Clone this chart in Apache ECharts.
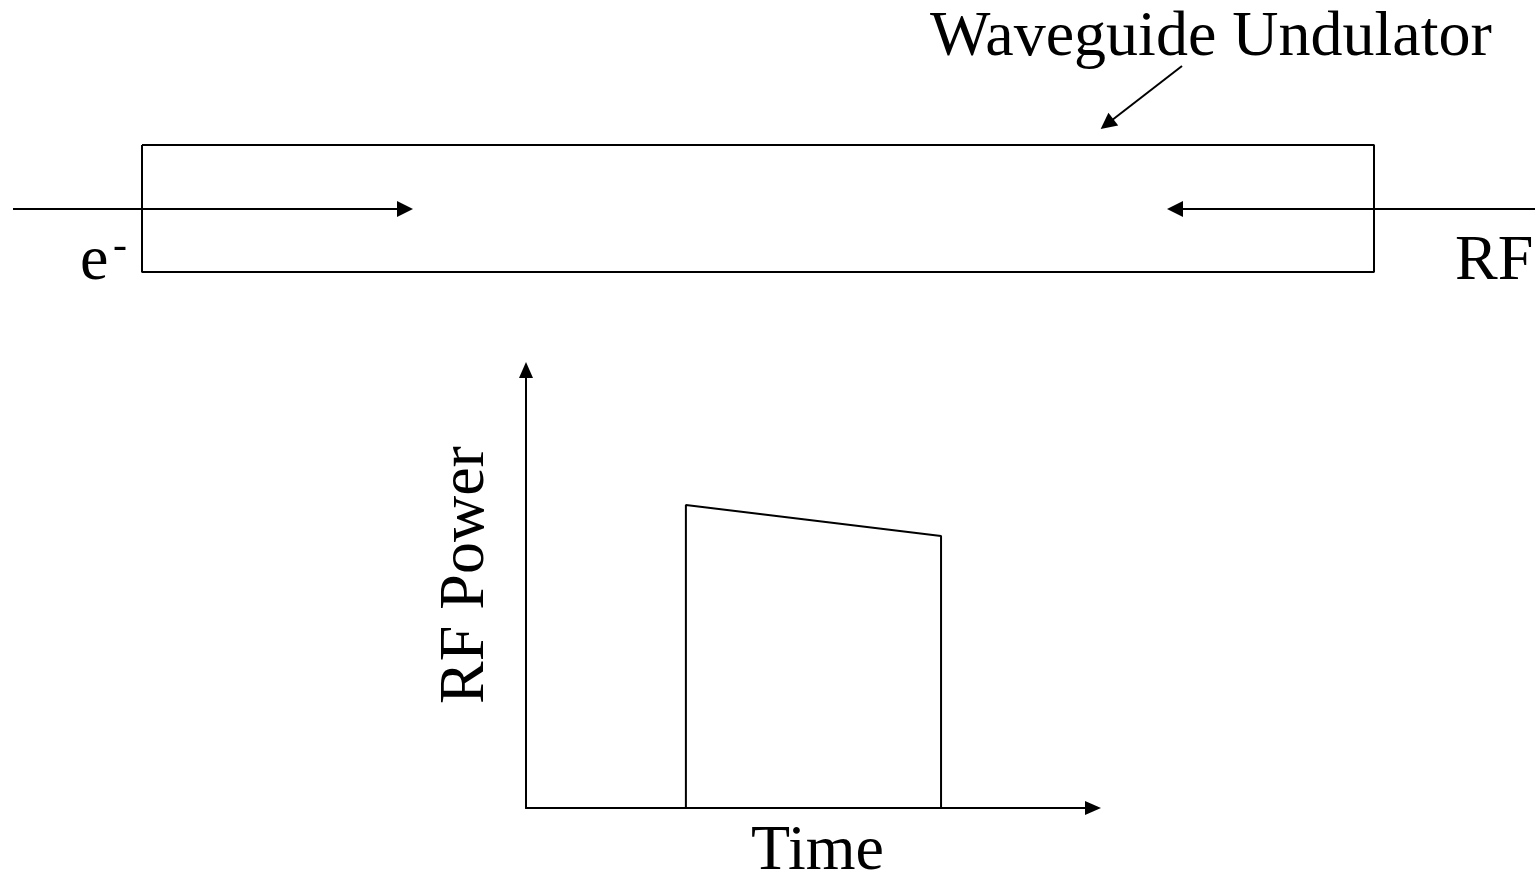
<!DOCTYPE html>
<html>
<head>
<meta charset="utf-8">
<title>Waveguide Undulator</title>
<script src="https://cdn.jsdelivr.net/npm/echarts@6/dist/echarts.min.js"></script>
<style>
  html, body { margin: 0; padding: 0; background: #fff; }
  #chart { width: 1539px; height: 878px; }
</style>
</head>
<body>
<div id="chart"></div>
<script>
// schematic, in page units (x right, y down)
var guideOutline = [[142, 145], [1374, 145], [1374, 272], [142, 272], [142, 145]]
var beamArrow = [[13, 209], [405, 209]]       // e- going in
var rfArrow = [[1535, 209], [1175, 209]]      // RF coming the other way
var pointerArrow = [[1182, 66], [1107, 124]]  // label pointer

// pulse plot, time vs RF power (0..100 each)
var pulseTime = [28.2, 28.2, 73.2, 73.2]
var pulsePower = [0, 69.2, 62.1, 0]

var serif = '"Liberation Serif", "Times New Roman", serif'
var chart = echarts.init(document.getElementById('chart'))

chart.setOption({
  backgroundColor: '#fff',
  animation: false,
  grid: [
    { left: 0, top: 0, width: 1539, height: 878, outerBoundsMode: 'none' },
    { left: 526, top: 370, width: 567, height: 438, outerBoundsMode: 'none' }
  ],
  xAxis: [
    { gridIndex: 0, type: 'value', min: 0, max: 1539, show: false },
    {
      gridIndex: 1, type: 'value', min: 0, max: 100,
      name: 'Time', nameLocation: 'middle', nameGap: 12,
      nameTextStyle: { fontFamily: serif, fontSize: 64, color: '#000', padding: [0, 0, 0, 16] },
      axisLine: {
        show: true, symbol: ['none', 'triangle'], symbolSize: [14, 16],
        lineStyle: { color: '#000', width: 2 }
      },
      axisTick: { show: false },
      axisLabel: { show: false },
      splitLine: { show: false }
    }
  ],
  yAxis: [
    { gridIndex: 0, type: 'value', min: 0, max: 878, inverse: true, show: false },
    {
      gridIndex: 1, type: 'value', min: 0, max: 100,
      name: 'RF Power', nameLocation: 'middle', nameGap: 28, nameRotate: 90,
      nameTextStyle: { fontFamily: serif, fontSize: 64, color: '#000', padding: [0, 0, 0, 28] },
      axisLine: {
        show: true, symbol: ['none', 'triangle'], symbolSize: [14, 16],
        lineStyle: { color: '#000', width: 2 }
      },
      axisTick: { show: false },
      axisLabel: { show: false },
      splitLine: { show: false }
    }
  ],
  graphic: [
    {
      type: 'text', left: 930, top: 6,
      style: { text: 'Waveguide Undulator', font: '64px ' + serif, fill: '#000' }
    },
    {
      type: 'text', left: 80, top: 230,
      style: { text: 'e', font: '64px ' + serif, fill: '#000' }
    },
    {
      type: 'text', left: 113, top: 226,
      style: { text: '-', font: '42px ' + serif, fill: '#000' }
    },
    {
      type: 'text', left: 1455, top: 230,
      style: { text: 'RF', font: '64px ' + serif, fill: '#000' }
    }
  ],
  series: [
    {
      type: 'line', xAxisIndex: 0, yAxisIndex: 0,
      data: guideOutline, showSymbol: false, silent: true,
      lineStyle: { color: '#000', width: 2 }
    },
    {
      type: 'lines', coordinateSystem: 'cartesian2d', xAxisIndex: 0, yAxisIndex: 0,
      symbol: ['none', 'triangle'], symbolSize: [14, 16], silent: true,
      lineStyle: { color: '#000', width: 2, opacity: 1 },
      data: [
        { coords: beamArrow },
        { coords: rfArrow },
        { coords: pointerArrow }
      ]
    },
    {
      type: 'line', xAxisIndex: 1, yAxisIndex: 1,
      data: pulseTime.map(function (t, i) { return [t, pulsePower[i]] }),
      showSymbol: false, silent: true,
      lineStyle: { color: '#000', width: 2 }
    }
  ]
})
</script>
</body>
</html>
